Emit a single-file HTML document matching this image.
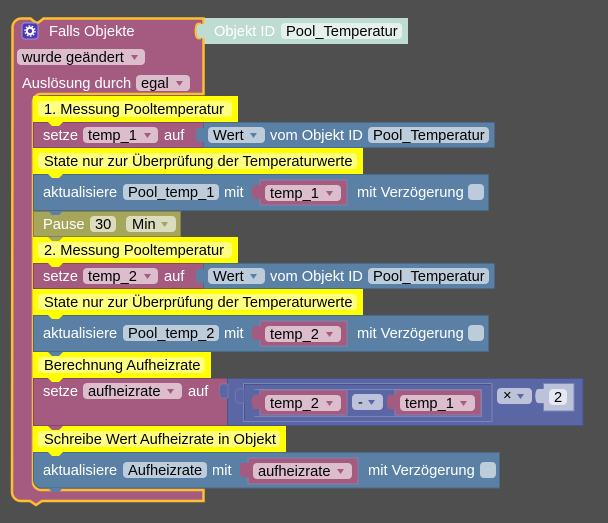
<!DOCTYPE html>
<html><head><meta charset="utf-8"><style>
html,body{margin:0;padding:0;background:#4f4f4f;width:608px;height:523px;overflow:hidden}
svg{display:block}
text{font-family:"Liberation Sans",sans-serif;font-size:14.67px;fill:#000;white-space:pre}
.w{fill:#fff}
.fp{fill:#dbbdcc}.fb{fill:#bdccdb}.fy{fill:#ffff80}.fm{fill:#bdc2db}.fo{fill:#dbdbbd}
.ap{fill:#a55b80}.ab{fill:#5b80a5}.am{fill:#5b67a5}.ao{fill:#a5a55b}
.bp{fill:#a55b80;stroke:#84496a;stroke-width:1}
.bb{fill:#5b80a5;stroke:#496a88;stroke-width:1}
.np{fill:#a55b80;stroke:#8a7fa8;stroke-width:1}
.y{fill:#ffff00}
</style></head><body>
<svg width="608" height="523" viewBox="0 0 608 523" xmlns="http://www.w3.org/2000/svg">
<rect width="608" height="523" fill="#4f4f4f"/>

<!-- hat -->
<path d="M12.500,28 a9,9 0 0 1 9,-9.500 h9 l5,4 h3 l5,-4 H203.500 V94 H41 a8,8 0 0 0 -8,8 V482 a8,8 0 0 0 8,8 H203.500 V501 H42 l-6,4 l-6,-4 H21 a9,9 0 0 1 -9,-9 Z" fill="#a55b80" stroke="#ffbe2e" stroke-width="2.500"/>
<rect x="22" y="23" width="16" height="16" rx="3" fill="#4c39b8" stroke="#9a90e0" stroke-width="1"/>
<circle cx="30" cy="31" r="3.200" fill="none" stroke="#fff" stroke-width="2"/>
<circle cx="30" cy="31" r="5" fill="none" stroke="#fff" stroke-width="1.400" stroke-dasharray="1.600 1.540"/>
<text class="w" x="49" y="36">Falls Objekte</text>
<rect class="fp" x="17" y="49" width="128" height="16" rx="4"/><text x="22" y="62">wurde geändert</text><path class="ap" d="M131,55h7l-3.500,5z"/>
<text class="w" x="22" y="88">Auslösung durch</text>
<rect class="fp" x="136" y="75" width="54" height="16" rx="4"/><text x="141" y="88">egal</text><path class="ap" d="M176,81h7l-3.500,5z"/>

<!-- Objekt ID -->
<rect x="204.500" y="18" width="203.500" height="26" fill="#bfdcd2"/>
<path d="m205,24 c-4,0 -7,-1 -8,2 c-1,3 -1,7 0,10 c1,3 4,2 8,2 z" fill="#bfdcd2"/>
<path d="M201,23.500 c-3,0 -4.500,0 -5,3 c-0.700,3 -0.700,6 0,9 c0.500,3 2,3 5,3" fill="none" stroke="#ffbe2e" stroke-width="1.800"/>
<text x="214" y="36" style="fill:#fff">Objekt ID</text>
<rect x="281" y="23" width="121" height="16" rx="4" fill="#e5f1ed"/><text x="286" y="36">Pool_Temperatur</text>

<!-- setze 1 -->
<rect class="bp" x="33.500" y="122.500" width="171" height="25"/>
<text class="w" x="43" y="140">setze</text>
<rect class="fp" x="83" y="127" width="75" height="16" rx="4"/><text x="88" y="140">temp_1</text><path class="ap" d="M144,133h7l-3.500,5z"/>
<text class="w" x="164" y="140">auf</text>
<rect class="bb" x="203.500" y="122.500" width="291" height="25"/>
<path d="m204.500,128 c-4,0 -7,-1 -8,2 c-1,3 -1,7 0,10 c1,3 4,2 8,2 z" fill="#5b80a5"/>
<rect class="fb" x="208" y="127" width="57" height="16" rx="4"/><text x="213" y="140">Wert</text><path class="ab" d="M250,133h7l-3.500,5z"/>
<text class="w" x="270" y="140">vom Objekt ID</text>
<rect class="fb" x="368" y="127" width="121" height="16" rx="4"/><text x="373" y="140">Pool_Temperatur</text>

<!-- aktualisiere 1 -->
<rect class="bb" x="33.500" y="174.500" width="455" height="36"/>
<text class="w" x="43" y="197">aktualisiere</text>
<rect class="fb" x="123" y="184" width="96" height="16" rx="4"/><text x="128" y="197">Pool_temp_1</text>
<text class="w" x="224" y="197">mit</text>
<rect class="np" x="260" y="180" width="87" height="25"/>
<path d="m260.500,185 c-4,0 -7,-1 -8,2 c-1,3 -1,7 0,10 c1,3 4,2 8,2 z" fill="#a55b80"/>
<rect class="fp" x="265" y="185" width="76" height="16" rx="4"/><text x="270" y="198">temp_1</text><path class="ap" d="M326,191h7l-3.500,5z"/>
<text class="w" x="357" y="197">mit Verzögerung</text>
<rect class="fb" x="468" y="184" width="16" height="16" rx="4"/>

<!-- Pause -->
<rect x="33.500" y="211.500" width="147" height="25" fill="#a5a55b" stroke="#84844a"/>
<text class="w" x="43" y="229">Pause</text>
<rect class="fo" x="90" y="216" width="26" height="16" rx="4"/><text x="95" y="229">30</text>
<rect class="fo" x="126" y="216" width="50" height="16" rx="4"/><text x="132" y="229">Min</text><path class="ao" d="M161,222h7l-3.500,5z"/>

<!-- setze 2 -->
<rect class="bp" x="33.500" y="263.500" width="171" height="25"/>
<text class="w" x="43" y="281">setze</text>
<rect class="fp" x="83" y="268" width="75" height="16" rx="4"/><text x="88" y="281">temp_2</text><path class="ap" d="M144,274h7l-3.500,5z"/>
<text class="w" x="164" y="281">auf</text>
<rect class="bb" x="203.500" y="263.500" width="291" height="25"/>
<path d="m204.500,269 c-4,0 -7,-1 -8,2 c-1,3 -1,7 0,10 c1,3 4,2 8,2 z" fill="#5b80a5"/>
<rect class="fb" x="208" y="268" width="57" height="16" rx="4"/><text x="213" y="281">Wert</text><path class="ab" d="M250,274h7l-3.500,5z"/>
<text class="w" x="270" y="281">vom Objekt ID</text>
<rect class="fb" x="368" y="268" width="121" height="16" rx="4"/><text x="373" y="281">Pool_Temperatur</text>

<!-- aktualisiere 2 -->
<rect class="bb" x="33.500" y="315.500" width="455" height="36"/>
<text class="w" x="43" y="338">aktualisiere</text>
<rect class="fb" x="123" y="325" width="96" height="16" rx="4"/><text x="128" y="338">Pool_temp_2</text>
<text class="w" x="224" y="338">mit</text>
<rect class="np" x="260" y="321" width="87" height="25"/>
<path d="m260.500,326 c-4,0 -7,-1 -8,2 c-1,3 -1,7 0,10 c1,3 4,2 8,2 z" fill="#a55b80"/>
<rect class="fp" x="265" y="326" width="76" height="16" rx="4"/><text x="270" y="339">temp_2</text><path class="ap" d="M326,332h7l-3.500,5z"/>
<text class="w" x="357" y="338">mit Verzögerung</text>
<rect class="fb" x="468" y="325" width="16" height="16" rx="4"/>

<!-- setze aufheizrate -->
<rect class="bp" x="33.500" y="378.500" width="195" height="47"/>
<text class="w" x="43" y="396">setze</text>
<rect class="fp" x="83" y="383" width="99" height="16" rx="4"/><text x="88" y="396">aufheizrate</text><path class="ap" d="M167,389h7l-3.500,5z"/>
<text class="w" x="188" y="396">auf</text>

<!-- math -->
<rect x="227.500" y="378.500" width="355.500" height="47" fill="#5b67a5" stroke="#49528a"/>
<path d="m228,384 c-4,0 -7,-1 -8,2 c-1,3 -1,7 0,10 c1,3 4,2 8,2 z" fill="#5b67a5" stroke="#7c85b7" stroke-width="0.600"/>
<rect x="243.500" y="383.500" width="248.500" height="38" fill="#5b67a5" stroke="#7c85b7"/>
<path d="M244.500,384.500 H491 M244.500,384.500 V420" fill="none" stroke="#49528a"/>
<path d="m244,389 c-4,0 -7,-1 -8,2 c-1,3 -1,7 0,10 c1,3 4,2 8,2 z" fill="#5b67a5" stroke="#7c85b7" stroke-width="0.600"/>
<path d="M254.500,389.500 H481.500 V416.500 H254.500" fill="none" stroke="#7c85b7"/>
<rect class="np" x="260" y="390" width="87" height="25"/>
<path d="m260.500,395 c-4,0 -7,-1 -8,2 c-1,3 -1,7 0,10 c1,3 4,2 8,2 z" fill="#a55b80"/>
<rect class="fp" x="265" y="395" width="76" height="16" rx="4"/><text x="270" y="408">temp_2</text><path class="ap" d="M326,401h7l-3.500,5z"/>
<rect class="fm" x="352" y="394" width="31" height="16" rx="4"/><text x="358" y="407">-</text><path class="am" d="M368,400h7l-3.500,5z"/>
<rect class="np" x="395" y="390" width="86" height="25"/>
<path d="m395.500,395 c-4,0 -7,-1 -8,2 c-1,3 -1,7 0,10 c1,3 4,2 8,2 z" fill="#a55b80"/>
<rect class="fp" x="400" y="395" width="75" height="16" rx="4"/><text x="405" y="408">temp_1</text><path class="ap" d="M460,401h7l-3.500,5z"/>
<rect class="fm" x="497" y="388" width="35" height="16" rx="4"/><text x="503" y="400">×</text><path class="am" d="M517,394h7l-3.500,5z"/>
<rect x="543.500" y="383.500" width="30.500" height="27.500" fill="#bdc2db" stroke="#7c85b7"/>
<path d="m544,389 c-4,0 -7,-1 -8,2 c-1,3 -1,7 0,10 c1,3 4,2 8,2 z" fill="#bdc2db"/>
<rect x="549" y="389" width="18" height="16" rx="4" fill="#e5e7f1"/><text x="554" y="402">2</text>

<!-- aktualisiere 3 -->
<path class="bb" d="M33.500,452.500 H499.500 V488 H41.500 a8,8 0 0 1 -8,-8 Z"/>
<text class="w" x="43" y="475">aktualisiere</text>
<rect class="fb" x="123" y="462" width="84" height="16" rx="4"/><text x="128" y="475">Aufheizrate</text>
<text class="w" x="212" y="475">mit</text>
<rect class="np" x="248" y="458" width="110" height="26"/>
<path d="m248.500,463 c-4,0 -7,-1 -8,2 c-1,3 -1,7 0,10 c1,3 4,2 8,2 z" fill="#a55b80"/>
<rect class="fp" x="253" y="463" width="99" height="16" rx="4"/><text x="258" y="476">aufheizrate</text><path class="ap" d="M337,469h7l-3.500,5z"/>
<text class="w" x="368" y="475">mit Verzögerung</text>
<rect class="fb" x="480" y="462" width="16" height="16" rx="4"/>
<path d="M48,488 l4,4 h7 l4,-4 z" fill="#5b80a5"/>

<!-- comments -->
<g stroke="none">
<rect class="y" x="33" y="96" width="205" height="26"/><rect class="fy" x="38" y="101" width="194" height="16" rx="4"/><text x="44" y="114">1. Messung Pooltemperatur</text>
<path class="y" d="M48,122 l4,4 h7 l4,-4 z"/>
<rect class="y" x="33" y="148" width="330" height="26"/><rect class="fy" x="38" y="153" width="319" height="16" rx="4"/><text x="44" y="166">State nur zur Überprüfung der Temperaturwerte</text>
<path class="y" d="M48,174 l4,4 h7 l4,-4 z"/>
<path class="ab" d="M48,211 l4,4 h7 l4,-4 z"/>
<rect class="y" x="33" y="237" width="205" height="26"/><rect class="fy" x="38" y="242" width="194" height="16" rx="4"/><text x="44" y="255">2. Messung Pooltemperatur</text>
<path class="ao" d="M48,237 l4,4 h7 l4,-4 z"/>
<path class="y" d="M48,263 l4,4 h7 l4,-4 z"/>
<rect class="y" x="33" y="289" width="330" height="26"/><rect class="fy" x="38" y="294" width="319" height="16" rx="4"/><text x="44" y="307">State nur zur Überprüfung der Temperaturwerte</text>
<path class="y" d="M48,315 l4,4 h7 l4,-4 z"/>
<rect class="y" x="33" y="352" width="178" height="26"/><rect class="fy" x="38" y="357" width="167" height="16" rx="4"/><text x="44" y="370">Berechnung Aufheizrate</text>
<path class="ab" d="M48,352 l4,4 h7 l4,-4 z"/>
<path class="y" d="M48,378 l4,4 h7 l4,-4 z"/>
<rect class="y" x="33" y="426" width="253" height="26"/><rect class="fy" x="38" y="431" width="242" height="16" rx="4"/><text x="44" y="444">Schreibe Wert Aufheizrate in Objekt</text>
<path class="ap" d="M48,426 l4,4 h7 l4,-4 z"/>
<path class="y" d="M48,452 l4,4 h7 l4,-4 z"/>
</g>
</svg>
</body></html>
